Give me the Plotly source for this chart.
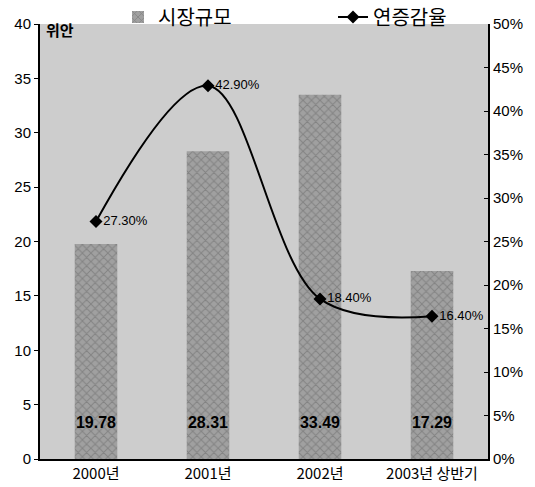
import plotly.graph_objects as go

categories = ["2000년", "2001년", "2002년", "2003년 상반기"]
market_size = [19.78, 28.31, 33.49, 17.29]
growth_rate = [27.30, 42.90, 18.40, 16.40]
left_ticks = [0, 5, 10, 15, 20, 25, 30, 35, 40]
right_ticks = [0, 5, 10, 15, 20, 25, 30, 35, 40, 45, 50]
right_tick_labels = [f"{v}%" for v in right_ticks]

LABEL_Y = 3.2  # height (axis units) at which bar value labels sit

FONT = "Liberation Sans, Arial, Noto Sans CJK KR"
KFONT = "Noto Sans CJK KR, Liberation Sans"

fig = go.Figure()
fig.add_trace(go.Bar(
    x=categories, y=market_size, name="시장규모",
    width=0.38,
    marker=dict(color="#969696", line=dict(width=0),
                pattern=dict(shape="x", bgcolor="#a0a0a0", fgcolor="#666666",
                             size=6, solidity=0.3)),
))
fig.add_trace(go.Scatter(
    x=categories, y=[LABEL_Y] * len(categories), mode="text", showlegend=False,
    text=[f"{v:.2f}" for v in market_size], hoverinfo="skip",
    textfont=dict(family="Liberation Sans Narrow, Liberation Sans, Arial", size=16,
                  color="black", weight="bold"),
))
fig.add_trace(go.Scatter(
    x=categories, y=growth_rate, name="연증감율", yaxis="y2",
    mode="lines+markers+text",
    line=dict(color="black", width=2, shape="spline", smoothing=1.0),
    marker=dict(symbol="diamond", size=10, color="black"),
    text=[f"{v:.2f}%" for v in growth_rate],
    textposition="middle right",
    textfont=dict(family=FONT, size=13, color="black"),
))

fig.update_layout(
    width=535, height=487,
    margin=dict(l=40, r=47, t=24, b=28, autoexpand=False),
    paper_bgcolor="white", plot_bgcolor="#cdcdcd",
    font=dict(family=FONT, color="black"),
    showlegend=True,
    legend=dict(orientation="h", xref="container", yref="container",
                x=118 / 535, y=1 - 17 / 487, xanchor="left", yanchor="middle",
                bgcolor="rgba(0,0,0,0)", font=dict(family=KFONT, size=20),
                entrywidth=170, entrywidthmode="pixels", itemwidth=30,
                tracegroupgap=0),
    xaxis=dict(showline=True, linecolor="black", linewidth=2, ticks="",
               tickfont=dict(family=KFONT, size=15), showgrid=False),
    yaxis=dict(range=[0, 40], tickmode="array", tickvals=left_ticks, showline=True,
               linecolor="black", linewidth=2, ticks="outside", ticklen=4,
               tickcolor="black", showgrid=False, zeroline=False,
               tickfont=dict(size=15)),
    yaxis2=dict(range=[0, 50], tickmode="array", tickvals=right_ticks,
                ticktext=right_tick_labels, overlaying="y",
                side="right", showline=True, linecolor="black", linewidth=2,
                ticks="inside", ticklen=4, tickcolor="black", showgrid=False,
                zeroline=False, tickfont=dict(size=15)),
    annotations=[dict(text="<b>위안</b>", xref="paper", yref="paper", x=0.008, y=0.988,
                      xanchor="left", yanchor="middle", showarrow=False,
                      font=dict(family=KFONT, size=15, color="black"))],
)

fig.write_html("out.html", config={"displayModeBar": False},
               post_script="document.body.style.margin='0';")
